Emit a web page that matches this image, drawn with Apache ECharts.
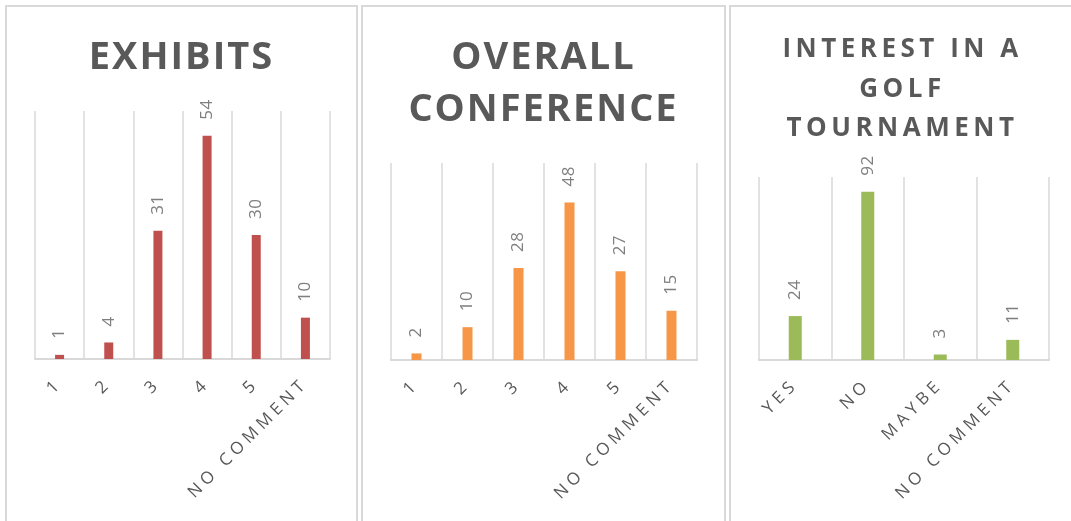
<!DOCTYPE html>
<html>
<head>
<meta charset="utf-8">
<script src="https://cdn.jsdelivr.net/npm/echarts@6/dist/echarts.min.js"></script>
<style>
  html, body { margin: 0; padding: 0; background: #fff; overflow: hidden; }
  .panel {
    position: absolute;
    top: 5px;
    height: 560px;
    box-sizing: border-box;
    border: 2px solid #d9d9d9;
    background: #fff;
  }
</style>
</head>
<body>
<div id="chart-exhibits" class="panel" style="left: 5px; width: 353px;"></div>
<div id="chart-overall" class="panel" style="left: 361px; width: 365px;"></div>
<div id="chart-golf" class="panel" style="left: 729px; width: 347px;"></div>

<script>
// data
const ratingCategories = ['1', '2', '3', '4', '5', 'NO COMMENT']
const exhibitsValues = [1, 4, 31, 54, 30, 10]
const overallValues = [2, 10, 28, 48, 27, 15]
const golfCategories = ['YES', 'NO', 'MAYBE', 'NO COMMENT']
const golfValues = [24, 92, 3, 11]

const TITLE_COLOR = '#595959'
const AXIS_LABEL_COLOR = '#585858'
const VALUE_LABEL_COLOR = '#7f7f7f'

// the original uses spaced-out caps, echarts has no letterSpacing so set it on the canvas
const origFillText = CanvasRenderingContext2D.prototype.fillText
CanvasRenderingContext2D.prototype.fillText = function (text, x, y, maxWidth) {
  const f = this.font
  const c = String(this.fillStyle).toLowerCase()
  let sp = '0px'
  if (/bold|700/.test(f)) sp = /38px/.test(f) ? '2px' : '4.5px'
  else if (c === AXIS_LABEL_COLOR) sp = '4.5px'
  else if (c === VALUE_LABEL_COLOR) sp = '0.5px'
  this.letterSpacing = sp
  if (maxWidth === undefined) origFillText.call(this, text, x, y)
  else origFillText.call(this, text, x, y, maxWidth)
}

function makeOption(cfg) {
  return {
    animation: false,
    title: {
      text: cfg.title,
      left: 'center',
      top: cfg.titleTop,
      textStyle: {
        fontFamily: 'Open Sans',
        fontWeight: 'bold',
        fontSize: cfg.titleSize,
        lineHeight: cfg.titleLineHeight,
        color: TITLE_COLOR
      }
    },
    grid: {
      left: cfg.grid[0],
      top: cfg.grid[1],
      width: cfg.grid[2],
      height: cfg.grid[3]
    },
    xAxis: {
      type: 'category',
      data: cfg.categories,
      axisLine: { lineStyle: { color: '#d9d9d9', width: 2 } },
      axisTick: { show: false },
      splitLine: { show: true, lineStyle: { color: '#d9d9d9', width: 1.5 } },
      axisLabel: {
        interval: 0,
        rotate: 45,
        margin: 22,
        fontFamily: 'Open Sans',
        fontSize: 17,
        color: AXIS_LABEL_COLOR
      }
    },
    yAxis: {
      type: 'value',
      min: 0,
      max: cfg.max,
      show: false
    },
    series: [
      {
        type: 'bar',
        data: cfg.values,
        barWidth: cfg.barWidth,
        itemStyle: { color: cfg.color },
        label: {
          show: true,
          position: 'top',
          rotate: 90,
          align: 'left',
          verticalAlign: 'middle',
          distance: 16,
          fontFamily: 'Open Sans',
          fontSize: 17,
          color: VALUE_LABEL_COLOR
        }
      }
    ]
  }
}

const exhibitsChart = echarts.init(document.getElementById('chart-exhibits'))
exhibitsChart.setOption(makeOption({
  title: 'EXHIBITS',
  titleTop: 23,
  titleSize: 38,
  titleLineHeight: 46,
  grid: [28, 104, 295, 248],
  categories: ratingCategories,
  values: exhibitsValues,
  max: 60,
  barWidth: 9,
  color: '#C0504D'
}))

const overallChart = echarts.init(document.getElementById('chart-overall'))
overallChart.setOption(makeOption({
  title: 'OVERALL\nCONFERENCE',
  titleTop: 20,
  titleSize: 38,
  titleLineHeight: 52,
  grid: [28, 156, 306, 197],
  categories: ratingCategories,
  values: overallValues,
  max: 60,
  barWidth: 10,
  color: '#F79646'
}))

const golfChart = echarts.init(document.getElementById('chart-golf'))
golfChart.setOption(makeOption({
  title: 'INTEREST IN A\nGOLF\nTOURNAMENT',
  titleTop: 18,
  titleSize: 26,
  titleLineHeight: 39.5,
  grid: [28, 170, 290, 183],
  categories: golfCategories,
  values: golfValues,
  max: 100,
  barWidth: 13,
  color: '#9BBB59'
}))
</script>
</body>
</html>
